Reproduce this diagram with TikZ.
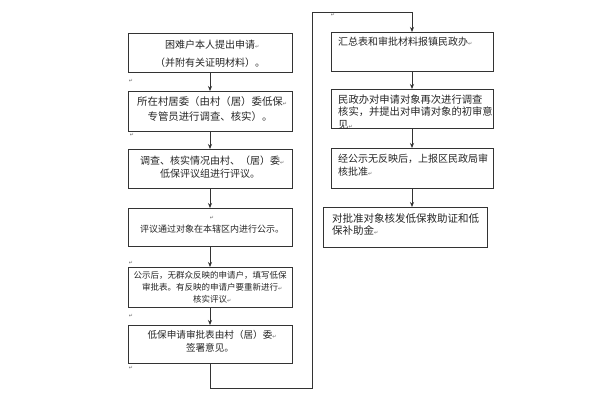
\documentclass[tikz,border=0pt]{standalone}
\usepackage{fontspec}
\setmainfont{Noto Sans CJK SC}
\newfontfamily\dvfont{DejaVu Sans}
\usetikzlibrary{arrows.meta}
\newcommand\parmark{{\dvfont\fontsize{5}{5}\selectfont\color{black!60}↵}}
\newcommand\fs[2]{\fontsize{#1}{#2}\selectfont}
\begin{document}
\begin{tikzpicture}[x=1pt,y=-1pt,
  box/.style={draw=black!80, line width=0.8pt, inner sep=0pt, outer sep=0pt},
  lbox/.style={box, minimum width=164pt},
  rbox/.style={box, minimum width=162pt},
  txt/.style={inner sep=0pt, text=black!85},
  pmark/.style={inner sep=0pt},
  conn/.style={draw=black!80, line width=0.8pt, -{Stealth[length=5pt,width=4pt]}},
  plain/.style={draw=black!80, line width=0.8pt}]
\useasboundingbox[fill=white] (0,0) rectangle (600,400);

% left column boxes
\node[lbox, minimum height=39pt] (b1) at (210,52.5) {};
\node[lbox, minimum height=40pt] (b2) at (210,111) {};
\node[lbox, minimum height=39pt] (b3) at (210,168.5) {};
\node[lbox, minimum height=38pt] (b4) at (210,227) {};
\node[lbox, minimum height=40pt] (b5) at (210,287) {};
\node[lbox, minimum height=38pt] (b6) at (210,344) {};
% right column boxes
\node[rbox, minimum height=39pt] (b7) at (412,51.5) {};
\node[rbox, minimum height=39pt] (b8) at (412,108.5) {};
\node[rbox, minimum height=40pt] (b9) at (412,168) {};
\node[box, minimum width=164pt, minimum height=40pt] (b10) at (405,227) {};

% texts
\node[txt, align=center, font={\fs{10}{18}}] (t1) at (210,54) {困难户本人提出申请\rlap{\parmark}\\（并附有关证明材料）。};
\node[txt, align=center, font={\fs{10.4}{15}}] (t2) at (210,109.5) {所在村居委（由村（居）委低保\rlap{\parmark}\\专管员进行调查、核实）。};
\node[txt, align=center, font={\fs{10}{12.5}}] (t3) at (210,167) {调查、核实情况由村、（居）委\rlap{\parmark}\\低保评议组进行评议。};
\node[pmark] (m4) at (212,218) {\parmark};
\node[txt, font={\fs{9}{11}}] (t4) at (212,229.5) {评议通过对象在本辖区内进行公示。};
\node[txt, align=center, font={\fs{8.5}{12}}] (t5) at (210,287) {公示后，无群众反映的申请户，填写低保\\审批表。有反映的申请户要重新进行\rlap{\parmark}\\核实评议\rlap{\parmark}};
\node[txt, align=center, font={\fs{9.6}{13}}] (t6) at (210,341.5) {低保申请审批表由村（居）委\rlap{\parmark}\\签署意见。};
\node[txt, anchor=west, font={\fs{10}{12}}] (t7) at (338,42) {汇总表和审批材料报镇民政办\parmark};
\node[txt, anchor=west, align=left, font={\fs{10.3}{12.5}}] (t8) at (338,112) {民政办对申请对象再次进行调查\\核实，并提出对申请对象的初审意\\见\parmark};
\node[txt, anchor=west, align=left, font={\fs{10}{13}}] (t9) at (338,165.5) {经公示无反映后，上报区民政局审\\核批准\parmark};
\node[txt, anchor=west, align=left, font={\fs{10.5}{12}}] (t10) at (332,224) {对批准对象核发低保救助证和低\\保补助金\parmark};

% stray paragraph marks
\node[pmark] (m1) at (131,81) {\parmark};
\node[pmark] (m2) at (132,135) {\parmark};
\node[pmark] (m3) at (131,263) {\parmark};
\node[pmark] (m5) at (131,316) {\parmark};
\node[pmark] (m6) at (131,368) {\parmark};
\node[pmark] (m7) at (333,15) {\parmark};

% connectors
\draw[conn] (b1) -- (b2);
\draw[conn] (b2) -- (b3);
\draw[conn] (b3) -- (b4);
\draw[conn] (b4) -- (b5);
\draw[conn] (b5) -- (b6);
\coordinate (c1) at (312,388);
\coordinate (c2) at (312,12);
\draw[conn] (b6.south) |- (c1) -- (c2) -| (b7.north);
\draw[conn] (b7) -- (b8);
\draw[conn] (b8) -- (b9);
\draw[conn] (b9.south) -- (b9.south |- b10.north);
\end{tikzpicture}
\end{document}
